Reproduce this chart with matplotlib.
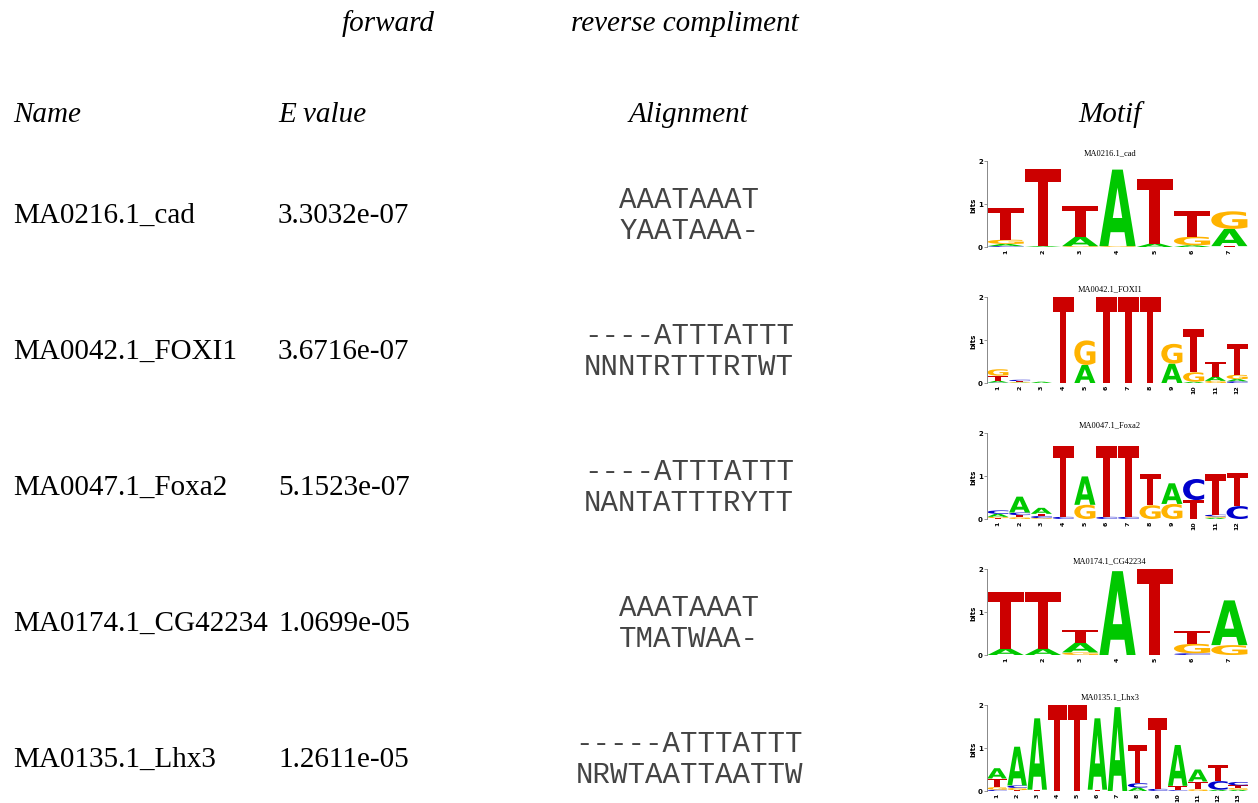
import matplotlib.pyplot as plt
from matplotlib.textpath import TextPath
from matplotlib.font_manager import FontProperties
from matplotlib.patches import PathPatch
from matplotlib.path import Path
from matplotlib.transforms import Affine2D

W, H = 1258, 804

# table content
motif_names = ["MA0216.1_cad", "MA0042.1_FOXI1", "MA0047.1_Foxa2",
               "MA0174.1_CG42234", "MA0135.1_Lhx3"]
e_values = ["3.3032e-07", "3.6716e-07", "5.1523e-07", "1.0699e-05", "1.2611e-05"]
forward_seqs = ["AAATAAAT", "----ATTTATTT", "----ATTTATTT", "AAATAAAT", "-----ATTTATTT"]
consensus_seqs = ["YAATAAA-", "NNNTRTTTRTWT", "NANTATTTRYTT", "TMATWAA-", "NRWTAATTAATTW"]

# letter heights in bits for each position: (A, C, G, T)
cad = [(0.05, 0.02, 0.10, 0.74), (0.02, 0.0, 0.0, 1.80), (0.22, 0.0, 0.02, 0.72),
       (1.78, 0.0, 0.02, 0.0), (0.08, 0.0, 0.0, 1.51), (0.04, 0.0, 0.20, 0.59),
       (0.40, 0.0, 0.41, 0.02)]
foxi1 = [(0.04, 0.01, 0.15, 0.12), (0.01, 0.03, 0.015, 0.02), (0.03, 0.0, 0.0, 0.0),
         (0.0, 0.0, 0.0, 1.99), (0.42, 0.0, 0.57, 0.0), (0.0, 0.0, 0.0, 1.99),
         (0.0, 0.0, 0.0, 1.99), (0.0, 0.0, 0.0, 1.99), (0.45, 0.0, 0.46, 0.0),
         (0.03, 0.0, 0.22, 1.0), (0.10, 0.0, 0.05, 0.35), (0.05, 0.04, 0.10, 0.72)]
foxa2 = [(0.07, 0.08, 0.03, 0.02), (0.37, 0.06, 0.04, 0.05), (0.14, 0.05, 0.02, 0.05),
         (0.0, 0.05, 0.0, 1.64), (0.66, 0.0, 0.33, 0.0), (0.0, 0.05, 0.0, 1.64),
         (0.0, 0.05, 0.0, 1.64), (0.0, 0.0, 0.32, 0.73), (0.48, 0.0, 0.35, 0.0),
         (0.0, 0.49, 0.0, 0.44), (0.03, 0.04, 0.03, 0.95), (0.0, 0.30, 0.0, 0.78)]
cg42234 = [(0.15, 0.0, 0.0, 1.31), (0.15, 0.0, 0.0, 1.31), (0.23, 0.0, 0.06, 0.29),
           (1.95, 0.0, 0.0, 0.0), (0.0, 0.0, 0.0, 2.0), (0.0, 0.04, 0.22, 0.29),
           (1.04, 0.0, 0.23, 0.0)]
lhx3 = [(0.24, 0.03, 0.06, 0.20), (0.90, 0.06, 0.05, 0.02), (1.66, 0.0, 0.0, 0.03),
        (0.0, 0.0, 0.0, 2.0), (0.0, 0.0, 0.0, 2.0), (1.66, 0.0, 0.0, 0.03),
        (1.95, 0.0, 0.0, 0.0), (0.08, 0.10, 0.0, 0.90), (0.0, 0.05, 0.0, 1.65),
        (0.95, 0.02, 0.0, 0.10), (0.28, 0.0, 0.04, 0.18), (0.03, 0.20, 0.0, 0.38),
        (0.03, 0.08, 0.04, 0.06)]
motifs = [cad, foxi1, foxa2, cg42234, lhx3]

bases = "ACGT"
base_colors = {"A": "#00C800", "C": "#0000CC", "G": "#FFB300", "T": "#CC0000"}

serif = "Liberation Serif"
mono = "Liberation Mono"
logo_font = FontProperties(family="DejaVu Sans", weight="bold")

# block T shape in a unit box (wide stem like the weblogo font)
t_path = Path([(0.35, 0), (0.65, 0), (0.65, 0.83), (1, 0.83), (1, 1),
               (0, 1), (0, 0.83), (0.35, 0.83), (0.35, 0)],
              [Path.MOVETO] + [Path.LINETO] * 7 + [Path.CLOSEPOLY])


def fx(px):
    return px / W


def fy(py):
    return 1 - py / H


def draw_letter(ax, ch, x, y, w, h):
    if ch == "T":
        tp = t_path
        x0, y0, bw, bh = 0, 0, 1, 1
    else:
        tp = TextPath((0, 0), ch, size=1, prop=logo_font)
        bb = tp.get_extents()
        x0, y0, bw, bh = bb.x0, bb.y0, bb.width, bb.height
    tr = Affine2D().translate(-x0, -y0).scale(w / bw, h / bh).translate(x, y)
    ax.add_patch(PathPatch(tr.transform_path(tp), fc=base_colors[ch], ec="none", lw=0))


def draw_logo(ax, cols):
    n = len(cols)
    for i, col in enumerate(cols):
        y = 0.0
        for b, h in sorted(zip(bases, col), key=lambda t: t[1]):
            if h <= 0:
                continue
            draw_letter(ax, b, i + 1 - 0.485, y, 0.97, h)
            y += h
    ax.set_xlim(0.5, n + 0.5)
    ax.set_ylim(0, 2)
    for s in ["top", "right", "bottom"]:
        ax.spines[s].set_visible(False)
    ax.spines["left"].set_linewidth(0.7)
    ax.spines["left"].set_color("#888888")
    ax.set_yticks([0, 1, 2])
    ax.set_xticks(range(1, n + 1))
    ax.set_xticklabels([str(k) for k in range(1, n + 1)], rotation=90,
                       fontsize=4.5, fontweight="bold")
    ax.tick_params(axis="x", length=0, pad=1)
    ax.tick_params(axis="y", length=2, width=0.6, color="#888888", pad=1, labelsize=5)
    for lab in ax.get_yticklabels():
        lab.set_fontweight("bold")
    ax.set_ylabel("bits", fontsize=5, fontweight="bold", labelpad=1)


fig = plt.figure(figsize=(W / 100, H / 100), dpi=100)

# column headers
fig.text(fx(388), fy(31), "forward", family=serif, style="italic", fontsize=21,
         ha="center", va="baseline")
fig.text(fx(685), fy(31), "reverse compliment", family=serif, style="italic",
         fontsize=21, ha="center", va="baseline")
fig.text(fx(13), fy(122), "Name", family=serif, style="italic", fontsize=21,
         ha="left", va="baseline")
fig.text(fx(278), fy(122), "E value", family=serif, style="italic", fontsize=21,
         ha="left", va="baseline")
fig.text(fx(689), fy(122), "Alignment", family=serif, style="italic", fontsize=21,
         ha="center", va="baseline")
fig.text(fx(1110), fy(122), "Motif", family=serif, style="italic", fontsize=21,
         ha="center", va="baseline")

for i in range(len(motif_names)):
    base = 223 + 136 * i
    fig.text(fx(13), fy(base), motif_names[i], family=serif, fontsize=21,
             ha="left", va="baseline")
    fig.text(fx(278), fy(base), e_values[i], family=serif, fontsize=21,
             ha="left", va="baseline")
    fig.text(fx(689), fy(base - 15), forward_seqs[i], family=mono, fontsize=21,
             ha="center", va="baseline", color="#444444")
    fig.text(fx(689), fy(base + 16), consensus_seqs[i], family=mono, fontsize=21,
             ha="center", va="baseline", color="#444444")

    top = 162 + 136 * i
    ax = fig.add_axes([fx(987), fy(top + 86), 261 / W, 86 / H])
    draw_logo(ax, motifs[i])
    fig.text(fx(1110), fy(top - 9), motif_names[i], family=serif, fontsize=6,
             ha="center", va="center")

fig.savefig("out.png", dpi=100)
